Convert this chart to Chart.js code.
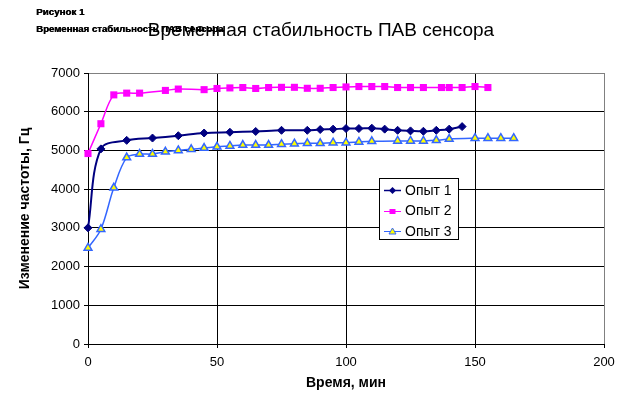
<!DOCTYPE html>
<html>
<head>
<meta charset="utf-8">
<title>Временная стабильность ПАВ сенсора</title>
<script src="https://cdn.jsdelivr.net/npm/chart.js@4/dist/chart.umd.min.js"></script>
<style>
    html, body { margin: 0; padding: 0; background: #fff; }
    #wrap { width: 641px; height: 399px; }
</style>
</head>
<body>
<div id="wrap"><canvas id="chart" width="641" height="399"></canvas></div>
<script>
// Tick labels
var xTicks = [0, 50, 100, 150, 200];
var yTicks = [0, 1000, 2000, 3000, 4000, 5000, 6000, 7000];

// Опыт 1
var time1 = [0, 5, 15, 25, 35, 45, 55, 65, 75, 85, 90, 95, 100, 105, 110, 115, 120, 125, 130, 135, 140, 145];
var run1 = [3000, 5040, 5260, 5320, 5380, 5450, 5470, 5490, 5520, 5520, 5540, 5550, 5565, 5565, 5575, 5550, 5520, 5505, 5495, 5520, 5550, 5615];

// Опыт 2
var time2 = [0, 5, 10, 15, 20, 30, 35, 45, 50, 55, 60, 65, 70, 75, 80, 85, 90, 95, 100, 105, 110, 115, 120, 125, 130, 137, 140, 145, 150, 155];
var run2 = [4920, 5690, 6435, 6480, 6480, 6550, 6585, 6570, 6600, 6615, 6625, 6600, 6625, 6630, 6630, 6605, 6605, 6625, 6640, 6650, 6650, 6650, 6625, 6625, 6625, 6625, 6625, 6625, 6650, 6625];

// Опыт 3
var time3 = [0, 5, 10, 15, 20, 25, 30, 35, 40, 45, 50, 55, 60, 65, 70, 75, 80, 85, 90, 95, 100, 105, 110, 120, 125, 130, 135, 140, 150, 155, 160, 165];
var run3 = [2480, 2965, 4035, 4815, 4905, 4905, 4965, 5000, 5030, 5060, 5095, 5115, 5140, 5140, 5140, 5160, 5175, 5185, 5185, 5200, 5200, 5220, 5235, 5245, 5245, 5245, 5260, 5295, 5315, 5315, 5315, 5315];

var seriesNames = ["Опыт 1", "Опыт 2", "Опыт 3"];

var titleText = "Временная стабильность ПАВ сенсора";
var captionLine1 = "Рисунок 1";
var captionLine2 = "Временная стабильность ПАВ сенсора";
var xTitle = "Время, мин";
var yTitle = "Изменение частоты, Гц";

var fontFamily = "'Liberation Sans', Arial, sans-serif";

function toPoints(xs, ys) {
    var pts = [];
    for (var i = 0; i < xs.length; i++) {
        pts.push({x: xs[i], y: ys[i]});
    }
    return pts;
}

// draws a small legend marker like the ones on the lines
function legendMarker(ctx, style, x, y, fill, stroke) {
    ctx.save();
    ctx.fillStyle = fill;
    ctx.strokeStyle = stroke;
    ctx.lineWidth = 1;
    ctx.beginPath();
    if (style === 'rectRot') {
        ctx.moveTo(x, y - 3.5);
        ctx.lineTo(x + 3.5, y);
        ctx.lineTo(x, y + 3.5);
        ctx.lineTo(x - 3.5, y);
        ctx.closePath();
        ctx.fill();
    } else if (style === 'rect') {
        ctx.rect(x - 3, y - 2.5, 6, 5);
        ctx.fill();
    } else {
        ctx.moveTo(x, y - 3.5);
        ctx.lineTo(x + 3.5, y + 2.5);
        ctx.lineTo(x - 3.5, y + 2.5);
        ctx.closePath();
        ctx.fill();
        ctx.stroke();
    }
    ctx.restore();
}

// caption text drawn a bit heavier, like the bitmap font in the picture
function heavyText(ctx, text, x, y, sx) {
    ctx.save();
    ctx.translate(x, y);
    ctx.scale(sx, 1);
    ctx.fillText(text, 0, 0);
    ctx.fillText(text, 0.4, 0);
    ctx.restore();
}

// Title, caption and legend
var overlayText = {
    id: 'overlayText',
    afterDraw: function (chart) {
        var ctx = chart.ctx;
        ctx.save();
        ctx.fillStyle = '#000';
        ctx.textAlign = 'left';
        ctx.textBaseline = 'alphabetic';
        ctx.font = 'bold 8.5px ' + fontFamily;
        heavyText(ctx, captionLine1, 36, 14.5, 1.15);
        heavyText(ctx, captionLine2, 36, 31.5, 1.13);

        ctx.font = '19px ' + fontFamily;
        ctx.textAlign = 'center';
        ctx.fillText(titleText, 321, 36);

        // legend box
        ctx.fillStyle = '#fff';
        ctx.fillRect(379.5, 178.5, 79, 61);
        ctx.strokeStyle = '#000';
        ctx.lineWidth = 1;
        ctx.strokeRect(379.5, 178.5, 79, 61);

        ctx.font = '14px ' + fontFamily;
        ctx.textAlign = 'left';
        ctx.textBaseline = 'middle';
        chart.data.datasets.forEach(function (ds, i) {
            var y = 190 + i * 20.5;
            ctx.strokeStyle = ds.borderColor;
            ctx.lineWidth = ds.borderWidth > 1.5 ? 1.5 : 1;
            ctx.beginPath();
            ctx.moveTo(384, Math.round(y) + 0.5);
            ctx.lineTo(401, Math.round(y) + 0.5);
            ctx.stroke();
            legendMarker(ctx, ds.pointStyle, 392.5, Math.round(y) + 0.5, ds.pointBackgroundColor, ds.pointBorderColor);
            ctx.fillStyle = '#000';
            ctx.fillText(ds.label, 405, y + 1);
        });
        ctx.restore();
    }
};

var ctx = document.getElementById("chart").getContext("2d");
var myChart = new Chart(ctx, {
    type: "line",
    data: {
        datasets: [{
                label: seriesNames[0],
                data: toPoints(time1, run1),
                borderColor: "#000080",
                backgroundColor: "#000080",
                borderWidth: 2,
                pointStyle: "rectRot",
                pointRadius: 4,
                pointBackgroundColor: "#000080",
                pointBorderColor: "#000080",
                pointBorderWidth: 1,
                tension: 0.35,
                clip: false
            },
            {
                label: seriesNames[1],
                data: toPoints(time2, run2),
                borderColor: "#ff00ff",
                backgroundColor: "#ff00ff",
                borderWidth: 1.5,
                pointStyle: "rect",
                pointRadius: 5,
                pointBackgroundColor: "#ff00ff",
                pointBorderColor: "#ff00ff",
                pointBorderWidth: 0,
                tension: 0.35,
                clip: false
            },
            {
                label: seriesNames[2],
                data: toPoints(time3, run3),
                borderColor: "#3366ff",
                backgroundColor: "#ffff00",
                borderWidth: 1.5,
                pointStyle: "triangle",
                pointRadius: 4.5,
                pointBackgroundColor: "#ffff00",
                pointBorderColor: "#3366ff",
                pointBorderWidth: 1.5,
                tension: 0.35,
                clip: false
            }
        ]
    },
    options: {
        responsive: false,
        animation: false,
        devicePixelRatio: 1,
        layout: {
            padding: {left: 0, right: 37, top: 73, bottom: 0}
        },
        plugins: {
            legend: {display: false},
            title: {display: false},
            tooltip: {enabled: false}
        },
        scales: {
            x: {
                type: "linear",
                min: 0,
                max: 200,
                afterBuildTicks: function (scale) {
                    scale.ticks = xTicks.map(function (v) { return {value: v}; });
                },
                afterFit: function (scale) { scale.height = 55; },
                grid: {
                    color: function (c) { return c.tick && c.tick.value === 200 ? "#808080" : "#000"; },
                    tickColor: "#000",
                    tickLength: 4,
                    lineWidth: 1
                },
                border: {color: "#000", width: 1},
                ticks: {
                    color: "#000",
                    font: {family: fontFamily, size: 13},
                    padding: 7,
                    maxRotation: 0,
                    callback: function (v) { return String(v); }
                },
                title: {
                    display: true,
                    text: xTitle,
                    color: "#000",
                    font: {family: fontFamily, size: 14, weight: "bold"},
                    padding: {top: 0, bottom: 7}
                }
            },
            y: {
                min: 0,
                max: 7000,
                afterBuildTicks: function (scale) {
                    scale.ticks = yTicks.map(function (v) { return {value: v}; });
                },
                afterFit: function (scale) { scale.width = 88; },
                grid: {
                    color: function (c) { return c.tick && c.tick.value === 7000 ? "#808080" : "#000"; },
                    tickColor: "#000",
                    tickLength: 4,
                    lineWidth: 1
                },
                border: {color: "#000", width: 1},
                ticks: {
                    color: "#000",
                    font: {family: fontFamily, size: 13},
                    padding: 4,
                    callback: function (v) { return String(v); }
                },
                title: {
                    display: true,
                    text: yTitle,
                    color: "#000",
                    font: {family: fontFamily, size: 14, weight: "bold"},
                    padding: {top: 17, bottom: 0}
                }
            }
        }
    },
    plugins: [overlayText]
});
</script>
</body>
</html>
